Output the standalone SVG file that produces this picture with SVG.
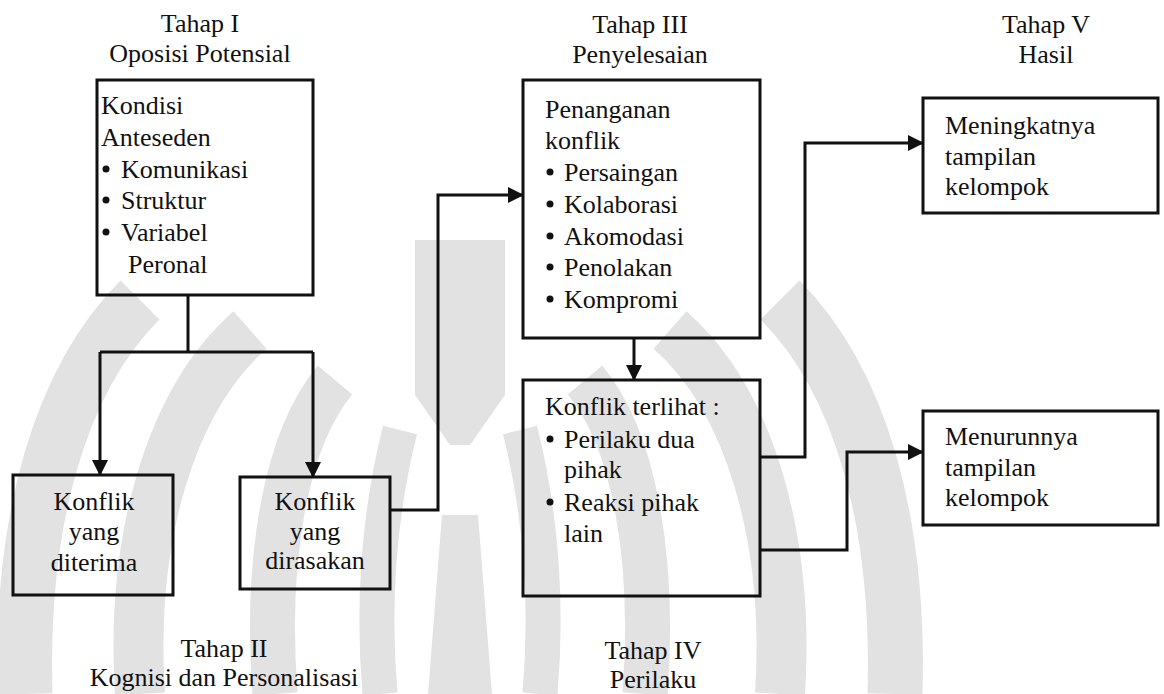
<svg xmlns="http://www.w3.org/2000/svg" width="1164" height="694" viewBox="0 0 1164 694">
  <defs>
    <marker id="arr" markerUnits="userSpaceOnUse" markerWidth="16" markerHeight="16" refX="15" refY="8" orient="auto">
      <path d="M0,0 L16,8 L0,16 Z" fill="#111"/>
    </marker>
  </defs>
  <rect width="1164" height="694" fill="#fff"/>

  <g id="watermark" fill="none" stroke="#e2e2e2">
    <path stroke-width="55" d="M 140 300 C 60 380 20 520 25 694"/>
    <path stroke-width="55" d="M 780 300 C 860 380 900 520 895 694"/>
    <path stroke-width="50" d="M 250 330 C 170 400 130 540 140 694"/>
    <path stroke-width="50" d="M 670 330 C 750 400 790 540 780 694"/>
    <path stroke-width="45" d="M 335 380 C 285 440 265 560 275 694"/>
    <path stroke-width="45" d="M 585 380 C 635 440 655 560 645 694"/>
    <path stroke-width="35" d="M 400 430 C 380 510 372 600 380 694"/>
    <path stroke-width="35" d="M 520 430 C 540 510 548 600 540 694"/>
    <path stroke="none" fill="#e2e2e2" d="M415 240 L505 240 L505 395 L470 445 L450 445 L415 395 Z"/>
    <path stroke="none" fill="#e2e2e2" d="M442 515 L478 515 L492 694 L428 694 Z"/>
  </g>

  <g id="title1" font-family="Liberation Serif" font-size="26" fill="#111" text-anchor="middle">
    <text x="200" y="32">Tahap I</text>
    <text x="200" y="62">Oposisi Potensial</text>
  </g>
  <g id="title2" font-family="Liberation Serif" font-size="26" fill="#111" text-anchor="middle">
    <text x="224" y="657">Tahap II</text>
    <text x="224" y="686">Kognisi dan Personalisasi</text>
  </g>
  <g id="title3" font-family="Liberation Serif" font-size="26" fill="#111" text-anchor="middle">
    <text x="640" y="33">Tahap III</text>
    <text x="640" y="63">Penyelesaian</text>
  </g>
  <g id="title4" font-family="Liberation Serif" font-size="26" fill="#111" text-anchor="middle">
    <text x="653" y="659">Tahap IV</text>
    <text x="653" y="688">Perilaku</text>
  </g>
  <g id="title5" font-family="Liberation Serif" font-size="26" fill="#111" text-anchor="middle">
    <text x="1046" y="33">Tahap V</text>
    <text x="1046" y="63">Hasil</text>
  </g>

  <g id="connectors" fill="none" stroke="#111" stroke-width="3">
    <path d="M188 295 V352"/>
    <path d="M100 352 H313"/>
    <path d="M100 352 V475" marker-end="url(#arr)"/>
    <path d="M313 352 V477" marker-end="url(#arr)"/>
    <path d="M390 510 H438 V195 H523" marker-end="url(#arr)"/>
    <path d="M634 338 V380" marker-end="url(#arr)"/>
    <path d="M760 457 H805 V143 H923" marker-end="url(#arr)"/>
    <path d="M760 550 H847 V452 H923" marker-end="url(#arr)"/>
  </g>

  <g id="n-kondisi" font-family="Liberation Serif" font-size="26" fill="#111">
    <rect x="97" y="80" width="216" height="215" fill="none" stroke="#111" stroke-width="3"/>
    <text x="101" y="114">Kondisi</text>
    <text x="101" y="146">Anteseden</text>
    <circle cx="106" cy="169" r="3.5"/><text x="121" y="178">Komunikasi</text>
    <circle cx="106" cy="200" r="3.5"/><text x="121" y="209">Struktur</text>
    <circle cx="106" cy="232" r="3.5"/><text x="121" y="241">Variabel</text>
    <text x="128" y="273">Peronal</text>
  </g>

  <g id="n-diterima" font-family="Liberation Serif" font-size="26" fill="#111" text-anchor="middle">
    <rect x="13" y="475" width="160" height="120" fill="none" stroke="#111" stroke-width="3"/>
    <text x="94" y="510">Konflik</text>
    <text x="94" y="540">yang</text>
    <text x="94" y="571">diterima</text>
  </g>

  <g id="n-dirasakan" font-family="Liberation Serif" font-size="26" fill="#111" text-anchor="middle">
    <rect x="240" y="477" width="150" height="112" fill="none" stroke="#111" stroke-width="3"/>
    <text x="315" y="510">Konflik</text>
    <text x="315" y="540">yang</text>
    <text x="315" y="569">dirasakan</text>
  </g>

  <g id="n-penanganan" font-family="Liberation Serif" font-size="26" fill="#111">
    <rect x="523" y="80" width="237" height="258" fill="none" stroke="#111" stroke-width="3"/>
    <text x="545" y="118">Penanganan</text>
    <text x="545" y="149">konflik</text>
    <circle cx="550" cy="172" r="3.5"/><text x="564" y="181">Persaingan</text>
    <circle cx="550" cy="204" r="3.5"/><text x="564" y="213">Kolaborasi</text>
    <circle cx="550" cy="236" r="3.5"/><text x="564" y="245">Akomodasi</text>
    <circle cx="550" cy="267" r="3.5"/><text x="564" y="276">Penolakan</text>
    <circle cx="550" cy="299" r="3.5"/><text x="564" y="308">Kompromi</text>
  </g>

  <g id="n-terlihat" font-family="Liberation Serif" font-size="26" fill="#111">
    <rect x="523" y="380" width="237" height="216" fill="none" stroke="#111" stroke-width="3"/>
    <text x="545" y="415">Konflik terlihat :</text>
    <circle cx="550" cy="439" r="3.5"/><text x="564" y="448">Perilaku dua</text>
    <text x="564" y="478">pihak</text>
    <circle cx="550" cy="502" r="3.5"/><text x="564" y="511">Reaksi pihak</text>
    <text x="564" y="542">lain</text>
  </g>

  <g id="n-meningkat" font-family="Liberation Serif" font-size="26" fill="#111">
    <rect x="923" y="98" width="235" height="115" fill="none" stroke="#111" stroke-width="3"/>
    <text x="945" y="134">Meningkatnya</text>
    <text x="945" y="165">tampilan</text>
    <text x="945" y="195">kelompok</text>
  </g>

  <g id="n-menurun" font-family="Liberation Serif" font-size="26" fill="#111">
    <rect x="923" y="411" width="235" height="114" fill="none" stroke="#111" stroke-width="3"/>
    <text x="945" y="445">Menurunnya</text>
    <text x="945" y="476">tampilan</text>
    <text x="945" y="506">kelompok</text>
  </g>
</svg>
